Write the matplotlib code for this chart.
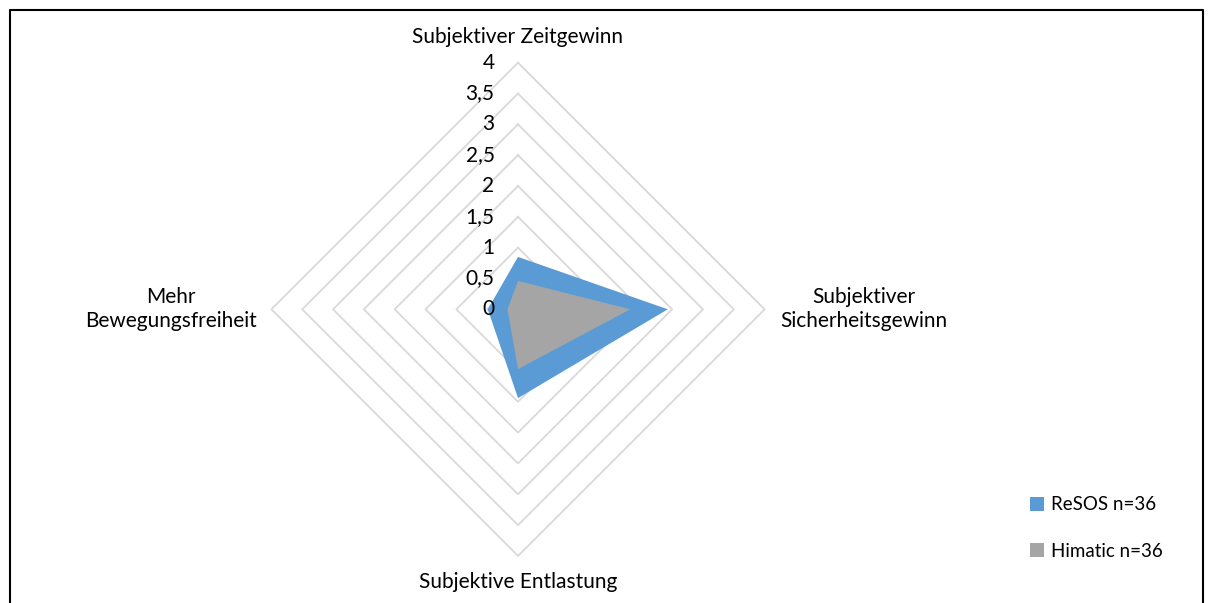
import numpy as np
import matplotlib
matplotlib.use("Agg")
import matplotlib.pyplot as plt
from matplotlib.patches import Patch
from matplotlib.lines import Line2D

plt.rcParams['font.family'] = ['Lato', 'DejaVu Sans']

categories = ["Subjektiver Zeitgewinn", "Subjektiver\nSicherheitsgewinn",
              "Subjektive Entlastung", "Mehr\nBewegungsfreiheit"]
resos = [0.85, 2.43, 1.44, 0.49]
himatic = [0.46, 1.82, 0.97, 0.17]
series_names = ["ReSOS n=36", "Himatic n=36"]
tick_values = [0, 0.5, 1, 1.5, 2, 2.5, 3, 3.5, 4]
tick_labels = ["0", "0,5", "1", "1,5", "2", "2,5", "3", "3,5", "4"]

W, H = 1208, 603
fig = plt.figure(figsize=(W / 100, H / 100), dpi=100)

# axes where one data unit == one rating unit; centre at pixel (518, 309)
unit = 61.65
cx, cy = 518, 309.3
half = 4.2
ax = fig.add_axes([(cx - half * unit) / W, (H - cy - half * unit) / H,
                   2 * half * unit / W, 2 * half * unit / H])
ax.set_xlim(-half, half)
ax.set_ylim(-half, half)
ax.axis('off')

angles = np.pi / 2 - np.arange(len(categories)) * 2 * np.pi / len(categories)

def to_xy(vals):
    v = np.asarray(vals, dtype=float)
    x = v * np.cos(angles)
    y = v * np.sin(angles)
    return np.append(x, x[0]), np.append(y, y[0])

# grid diamonds
for t in tick_values[1:]:
    gx, gy = to_xy([t] * len(categories))
    ax.plot(gx, gy, color='#d9d9d9', lw=1.3, zorder=1, clip_on=False)

colors = ['#5b9bd5', '#a5a5a5']
for i, (vals, c) in enumerate(zip([resos, himatic], colors)):
    px, py = to_xy(vals)
    ax.fill(px, py, color=c, zorder=2 + i, lw=0)

fs = 15
# tick labels
for t, lab in zip(tick_values, tick_labels):
    ax.text(-0.38, t, lab, ha='right', va='center', fontsize=fs, color='#000000', zorder=5)

# category labels
label_pos = [(0, 4.42), (5.61, 0), (0, -4.42), (-5.63, 0)]
for cat, (lx, ly) in zip(categories, label_pos):
    ax.text(lx, ly, cat, ha='center', va='center', fontsize=fs, multialignment='center',
            linespacing=1.25, clip_on=False)

# legend
handles = [Patch(facecolor=c, edgecolor='none') for c in colors]
fig.legend(handles, series_names, loc='center left',
           bbox_to_anchor=(1013 / W, 1 - 528 / H), frameon=False, fontsize=13.5,
           handlelength=0.75, handleheight=0.75, handletextpad=0.4, labelspacing=1.55)

# chart-area border (left, top, right)
fig.add_artist(Line2D([10 / W, 10 / W, 1203 / W, 1203 / W], [0, 1 - 10 / H, 1 - 10 / H, 0],
                      transform=fig.transFigure, color='black', lw=1.5))

fig.savefig('out.png', dpi=100)
